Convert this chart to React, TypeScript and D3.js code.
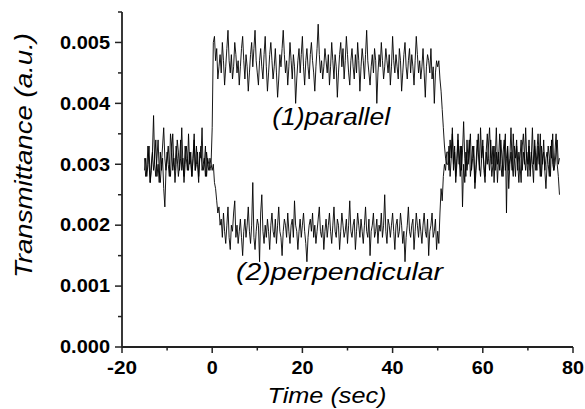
import React from "react";
import { scaleLinear, line, range, format } from "d3";

// sampling of both traces (sec)
const tStart = -15;
const tStep = 0.25;

// transmittance, in units of 1e-4 a.u.
const UNIT = 1e-4;

const parallelValues = [
  // before switching (t < 0)
  31, 28, 29, 33, 30, 27, 29, 32, 38, 30,
  28, 31, 34, 29, 27, 30, 33, 36, 31, 29,
  32, 30, 28, 35, 33, 29, 31, 27, 30, 34,
  32, 29, 31, 36, 30, 28, 33, 31, 29, 35,
  30, 32, 28, 31, 34, 29, 33, 30, 27, 32,
  31, 36, 29, 30, 33, 28, 31, 30, 29, 30,
  36, 50,
  // field on
  51, 47, 49, 44, 46, 48, 45, 50, 47, 43,
  46, 49, 52, 47, 45, 48, 44, 46, 50, 48,
  45, 47, 43, 46, 49, 51, 47, 44, 48, 46,
  42, 45, 48, 50, 46, 49, 52, 47, 45, 43,
  47, 49, 46, 44, 48, 51, 46, 42, 45, 48,
  50, 47, 44, 46, 49, 45, 41, 44, 48, 46,
  49, 52, 48, 45, 47, 43, 46, 50, 47, 44,
  48, 46, 40, 44, 47, 49, 45, 48, 51, 46,
  43, 47, 49, 46, 44, 48, 50, 47, 45, 42,
  46, 49, 53, 48, 45, 47, 44, 46, 49, 47,
  45, 48, 43, 46, 50, 47, 44, 48, 46, 41,
  45, 48, 50, 46, 49, 44, 47, 51, 48, 45,
  43, 47, 49, 46, 44, 48, 45, 50, 47, 42,
  46, 49, 47, 44, 48, 52, 47, 45, 43, 46,
  48, 45, 49, 47, 40, 45, 48, 46, 50, 47,
  44, 46, 49, 47, 45, 48, 43, 46, 51, 47,
  45, 48, 46, 44, 49, 47, 42, 45, 48, 50,
  46, 44, 47, 49, 45, 48, 46, 43, 47, 51,
  48, 45, 47, 44, 46, 49, 45, 41, 46, 48,
  47, 45, 49, 44, 46, 40, 45, 47,
  46, 47, 44, 42, 39, 36, 33, 31, 30,
  // field off
  30, 33, 28, 31, 35, 29, 32, 27, 30, 34,
  31, 28, 33, 23, 30, 27, 32, 29, 31, 34,
  28, 30, 33, 31, 26, 29, 32, 35, 30, 28,
  31, 34, 29, 27, 32, 30, 33, 36, 31, 28,
  30, 33, 29, 32, 27, 31, 35, 30, 28, 32,
  34, 29, 31, 33, 26, 30, 32, 29, 35, 31,
  28, 33, 30, 27, 31, 34, 29, 32, 30, 36,
  31, 28, 33, 29, 32, 30, 27, 34, 31, 29,
  33, 30, 35, 28, 31, 32, 29, 26, 30, 33,
  31, 28, 34, 30, 29, 32, 35, 30, 28, 25,
];

const perpendicularValues = [
  29, 31, 28, 30, 33, 27, 30, 32, 29, 31,
  34, 28, 30, 27, 32, 29, 31, 26, 23, 29,
  31, 33, 30, 28, 32, 35, 30, 29, 33, 31,
  28, 30, 34, 29, 31, 27, 30, 33, 31, 29,
  32, 30, 28, 31, 35, 29, 30, 32, 28, 31,
  33, 29, 30, 31, 28, 32, 30, 29, 31, 30,
  29, 30, 27, 26, 24, 22, 23, 20,
  21, 18, 22, 19, 17, 20, 23, 18, 16, 20,
  19, 22, 24, 18, 20, 17, 19, 21, 18, 15,
  19, 21, 18, 20, 23, 19, 17, 20, 27, 18,
  16, 19, 21, 20, 14, 22, 25, 19, 17, 20,
  18, 21, 19, 16, 20, 22, 19, 18, 21, 17,
  20, 23, 19, 18, 15, 19, 21, 20, 18, 22,
  19, 17, 20, 21, 18, 24, 20, 19, 16, 19,
  21, 18, 20, 22, 19, 17, 14, 18, 20, 21,
  19, 22, 18, 20, 17, 19, 21, 23, 19, 18,
  20, 16, 19, 21, 18, 20, 22, 19, 17, 20,
  23, 19, 18, 21, 20, 16, 19, 22, 20, 18,
  19, 21, 17, 20, 24, 19, 18, 20, 21, 16,
  19, 22, 20, 18, 21, 19, 17, 20, 23, 19,
  18, 21, 15, 19, 20, 22, 18, 19, 21, 17,
  20, 19, 22, 18, 20, 25, 19, 17, 21, 20,
  18, 20, 22, 19, 16, 20, 21, 18, 19, 22,
  20, 17, 19, 14, 18, 20, 23, 19, 18, 20,
  21, 16, 19, 22, 20, 18, 21, 19, 17, 20,
  22, 19, 18, 21, 15, 19, 20, 22, 18, 19,
  21, 16, 19,
  17, 22, 26, 24, 28, 30, 29, 32,
  32, 29, 34, 31, 36, 30, 33, 28, 31, 35,
  30, 33, 29, 32, 37, 31, 28, 34, 30, 32,
  35, 29, 31, 33, 27, 30, 34, 32, 29, 36,
  31, 33, 30, 28, 32, 35, 31, 29, 34, 30,
  33, 27, 31, 36, 30, 32, 29, 34, 31, 28,
  32, 35, 22, 33, 29, 31, 36, 30, 28, 33,
  31, 34, 29, 32, 30, 27, 33, 35, 31, 29,
  32, 30, 34, 28, 31, 36, 30, 33, 29, 32,
  35, 31, 28, 33, 30, 34, 29, 31, 32, 30,
  28, 33, 31, 35, 29, 30, 32, 34, 30, 31,
];

const labels = [
  { text: "(1)parallel", t: 13.3, v: 0.003645, len: 118 },
  { text: "(2)perpendicular", t: 5.3, v: 0.0011, len: 207 },
];

function App() {
  const width = 585;
  const height = 409;

  const xScale = scaleLinear().domain([-20, 80]).range([122, 573]);
  const yScale = scaleLinear().domain([0, 0.0055]).range([347, 12]);

  const toPoints = (vals: number[]) =>
    vals.map((v, i) => [tStart + i * tStep, v * UNIT] as [number, number]);

  const lineGen = line<[number, number]>()
    .x(d => xScale(d[0]))
    .y(d => yScale(d[1]));

  const xMajor = xScale.ticks(5);
  const xMinor = range(-10, 80, 20);
  const yMajor = yScale.ticks(6);
  const yMinor = range(0.0005, 0.0056, 0.001);
  const yFmt = format(".3f");

  const [x0, x1] = xScale.range();
  const [y0, y1] = yScale.range();
  const axisColor = "#222";
  const font = "Liberation Sans, Arial, sans-serif";

  return (
    <svg width={width} height={height} style={{ position: "absolute", left: 0, top: 0 }}>
      <rect width={width} height={height} fill="white" />

      {[parallelValues, perpendicularValues].map((vals, idx) => (
        <path key={idx} d={lineGen(toPoints(vals)) || ""} fill="none" stroke="black" strokeWidth={0.9} />
      ))}

      {/* axes */}
      <line x1={x0} x2={x0} y1={y0} y2={y1} stroke={axisColor} strokeWidth={1.8} />
      <line x1={x0} x2={x1} y1={y0} y2={y0} stroke={axisColor} strokeWidth={1.8} />

      {xMajor.map(t => {
        const s = String(t);
        const len = s.replace("-", "").length * 11 + (t < 0 ? 8 : 0);
        return (
          <g key={"xM" + t}>
            <line x1={xScale(t)} x2={xScale(t)} y1={y0} y2={y0 + 6} stroke={axisColor} strokeWidth={1.5} />
            <text x={xScale(t)} y={374} textAnchor="middle" fontFamily={font} fontWeight="bold" fontSize={18} textLength={len} lengthAdjust="spacingAndGlyphs">
              {s}
            </text>
          </g>
        );
      })}
      {xMinor.map(t => (
        <line key={"xm" + t} x1={xScale(t)} x2={xScale(t)} y1={y0} y2={y0 + 3.5} stroke={axisColor} strokeWidth={1.5} />
      ))}

      {yMajor.map(v => (
        <g key={"yM" + v}>
          <line x1={x0} x2={x0 - 7} y1={yScale(v)} y2={yScale(v)} stroke={axisColor} strokeWidth={1.5} />
          <text x={110} y={yScale(v) + 6.3} textAnchor="end" fontFamily={font} fontWeight="bold" fontSize={18} textLength={50} lengthAdjust="spacingAndGlyphs">
            {yFmt(v)}
          </text>
        </g>
      ))}
      {yMinor.map(v => (
        <line key={"ym" + v} x1={x0} x2={x0 - 4} y1={yScale(v)} y2={yScale(v)} stroke={axisColor} strokeWidth={1.5} />
      ))}

      {/* axis titles */}
      <text x={327} y={403} textAnchor="middle" fontFamily={font} fontStyle="italic" fontSize={22} textLength={119} lengthAdjust="spacingAndGlyphs">
        Time (sec)
      </text>
      <text transform="translate(32,155.5) rotate(-90)" textAnchor="middle" fontFamily={font} fontStyle="italic" fontSize={23} textLength={245} lengthAdjust="spacingAndGlyphs">
        Transmittance (a.u.)
      </text>

      {/* curve labels */}
      {labels.map(l => (
        <text key={l.text} x={xScale(l.t)} y={yScale(l.v)} fontFamily={font} fontStyle="italic" fontSize={23} textLength={l.len} lengthAdjust="spacingAndGlyphs">
          {l.text}
        </text>
      ))}
    </svg>
  );
}

export default App;
